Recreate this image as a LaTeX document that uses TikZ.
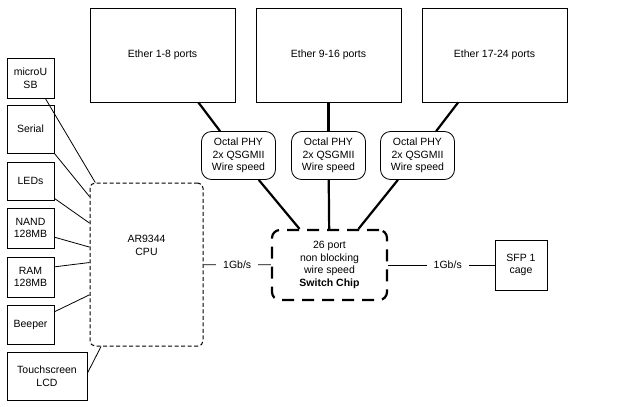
\documentclass[tikz,border=0pt]{standalone}
\usepackage{fontspec}
\setmainfont{Liberation Sans}
\usetikzlibrary{positioning}

\begin{document}
\begin{tikzpicture}[x=1pt, y=-1pt, node distance=166pt, on grid,
    font=\fontsize{10.5}{12.5}\selectfont,
    box/.style={draw, line width=0.8pt, align=center, inner sep=0pt},
    port/.style={box, minimum width=145pt, minimum height=94pt},
    phy/.style={box, rounded corners=10pt, minimum width=74pt, minimum height=48pt},
    io/.style={box, minimum width=47pt},
    rate/.style={fill=white, inner xsep=7pt, inner ysep=2pt},
    link/.style={line width=0.8pt},
    trunk/.style={line width=2.2pt}]
    \useasboundingbox (0,0) rectangle (640,407);

    % Nodes
    \node[port] (eth1) at (162.5,55) {Ether 1-8 ports};
    \node[port] (eth2) [right=of eth1] {Ether 9-16 ports};
    \node[port] (eth3) [right=of eth2] {Ether 17-24 ports};

    \node[phy] (phy1) at (238.5,155.5) {Octal PHY\\2x QSGMII\\Wire speed};
    \node[phy] (phy2) [right=90pt of phy1] {Octal PHY\\2x QSGMII\\Wire speed};
    \node[phy] (phy3) [right=89pt of phy2] {Octal PHY\\2x QSGMII\\Wire speed};

    \node[box, rounded corners=8pt, line width=2.2pt, dash pattern=on 12pt off 8pt,
        minimum width=115pt, minimum height=70pt] (switch) at (329.5,265)
        {26 port\\non blocking\\wire speed\\\textbf{Switch Chip}};
    \node[box, minimum width=52pt, minimum height=50pt] (sfp) at (521,265) {SFP 1\\cage};

    \node[box, rounded corners=5pt, line width=1pt, dash pattern=on 4pt off 2.5pt,
        minimum width=113pt, minimum height=163pt] (cpu) at (146.5,264.5) {};
    \node[align=center] (cpulbl) at ([yshift=19pt]cpu.center) {AR9344\\CPU};

    % Peripherals
    \node[io, minimum height=40pt] (usb) at (30.5,78) {microU\\SB};
    \node[io, minimum height=48pt] (serial) at (30.5,129) {Serial};
    \node[io, minimum height=38pt] (leds) at (30.5,181) {LEDs};
    \node[io, minimum height=40pt] (nand) at (30.5,228) {NAND\\128MB};
    \node[io, minimum height=40pt] (ram) at (30.5,277) {RAM\\128MB};
    \node[io, minimum height=39pt] (beeper) at (30.5,324.5) {Beeper};
    \node[io, minimum width=80pt, minimum height=48pt] (lcd) at (47,376) {Touchscreen\\LCD};

    % Links
    \path[trunk]
        (eth1) edge (phy1)
        (eth2) edge (phy2)
        (eth3) edge (phy3)
        (phy1) edge (switch)
        (phy2) edge (switch)
        (phy3) edge (switch);

    \path[link]
        (cpu) edge node[rate] {1Gb/s} (switch)
        (switch) edge node[rate, pos=.56] {1Gb/s} (sfp);

    \path[link]
        (usb.306) edge (cpu.122)
        (serial.south east) edge (cpu.130)
        (leds.324) edge (cpu.144)
        (nand.339) edge (cpu.163)
        (ram.23) edge (cpu.178)
        (beeper.28) edge (cpu.208)
        (lcd.4) edge (cpu.241);
\end{tikzpicture}
\end{document}
